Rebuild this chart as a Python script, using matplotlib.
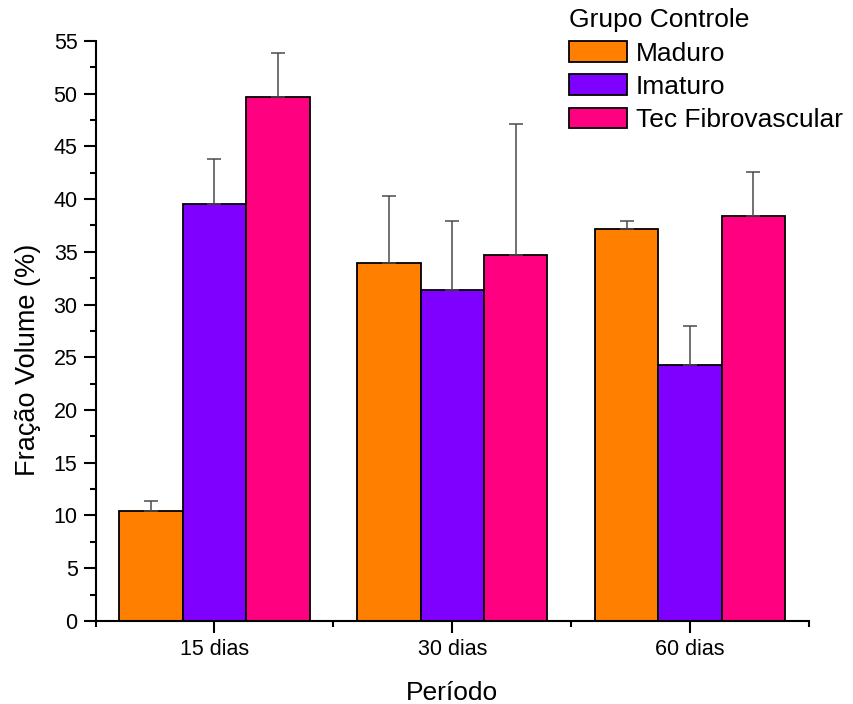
import matplotlib
matplotlib.use("Agg")
import matplotlib.pyplot as plt
import numpy as np
from matplotlib.ticker import MultipleLocator

plt.rcParams['font.family'] = ['Liberation Sans', 'DejaVu Sans']

categories = ["15 dias", "30 dias", "60 dias"]
series_names = ["Maduro", "Imaturo", "Tec Fibrovascular"]
maduro = [10.45, 33.9, 37.15]
maduro_err = [0.9, 6.4, 0.8]
imaturo = [39.55, 31.4, 24.3]
imaturo_err = [4.2, 6.5, 3.7]
tec = [49.65, 34.65, 38.4]
tec_err = [4.15, 12.5, 4.15]
colors = ["#FF8000", "#8000FF", "#FF0080"]

values = [maduro, imaturo, tec]
errors = [maduro_err, imaturo_err, tec_err]

fig = plt.figure(figsize=(8.54, 7.04), dpi=100)
ax = fig.add_axes([0.112, 0.118, 0.835, 0.824])

x = np.arange(1, len(categories) + 1)
w = 0.8 / 3
for i, (vals, errs, c, name) in enumerate(zip(values, errors, colors, series_names)):
    pos = x + (i - 1) * w
    ax.bar(pos, vals, width=w, color=c, edgecolor="black", linewidth=1.3,
           label=name, zorder=2)
    ax.errorbar(pos, vals, yerr=[np.zeros(len(errs)), errs], fmt="none",
                ecolor="#4a4a4a", elinewidth=1.1, capsize=5, capthick=1.1, zorder=3)

ax.set_xlim(0.5, 3.5)
ax.set_ylim(0, 55)
ax.set_xticks(x)
ax.set_xticklabels(categories)
ax.set_xticks([0.5, 1.5, 2.5, 3.5], minor=True)
ax.yaxis.set_major_locator(MultipleLocator(5))
ax.yaxis.set_minor_locator(MultipleLocator(2.5))

for s in ["top", "right"]:
    ax.spines[s].set_visible(False)
for s in ["left", "bottom"]:
    ax.spines[s].set_linewidth(1.5)

ax.tick_params(which="major", length=8.5, width=1.5, labelsize=15.5, pad=4.5)
ax.tick_params(which="minor", length=4.5, width=1.5)

ax.set_xlabel("Período", fontsize=19, labelpad=15)
ax.set_ylabel("Fração Volume (%)", fontsize=19.5)
ax.yaxis.set_label_coords(-0.077, 0.45)

leg = fig.legend(loc="upper left", bbox_to_anchor=(0.666, 0.988),
                 bbox_transform=fig.transFigure, frameon=False,
                 title="Grupo Controle", fontsize=19, title_fontsize=19,
                 handlelength=2.2, handleheight=0.83, handletextpad=0.35,
                 labelspacing=0.33, borderpad=0, borderaxespad=0,
                 alignment="left")

fig.savefig("out.png", dpi=100)
